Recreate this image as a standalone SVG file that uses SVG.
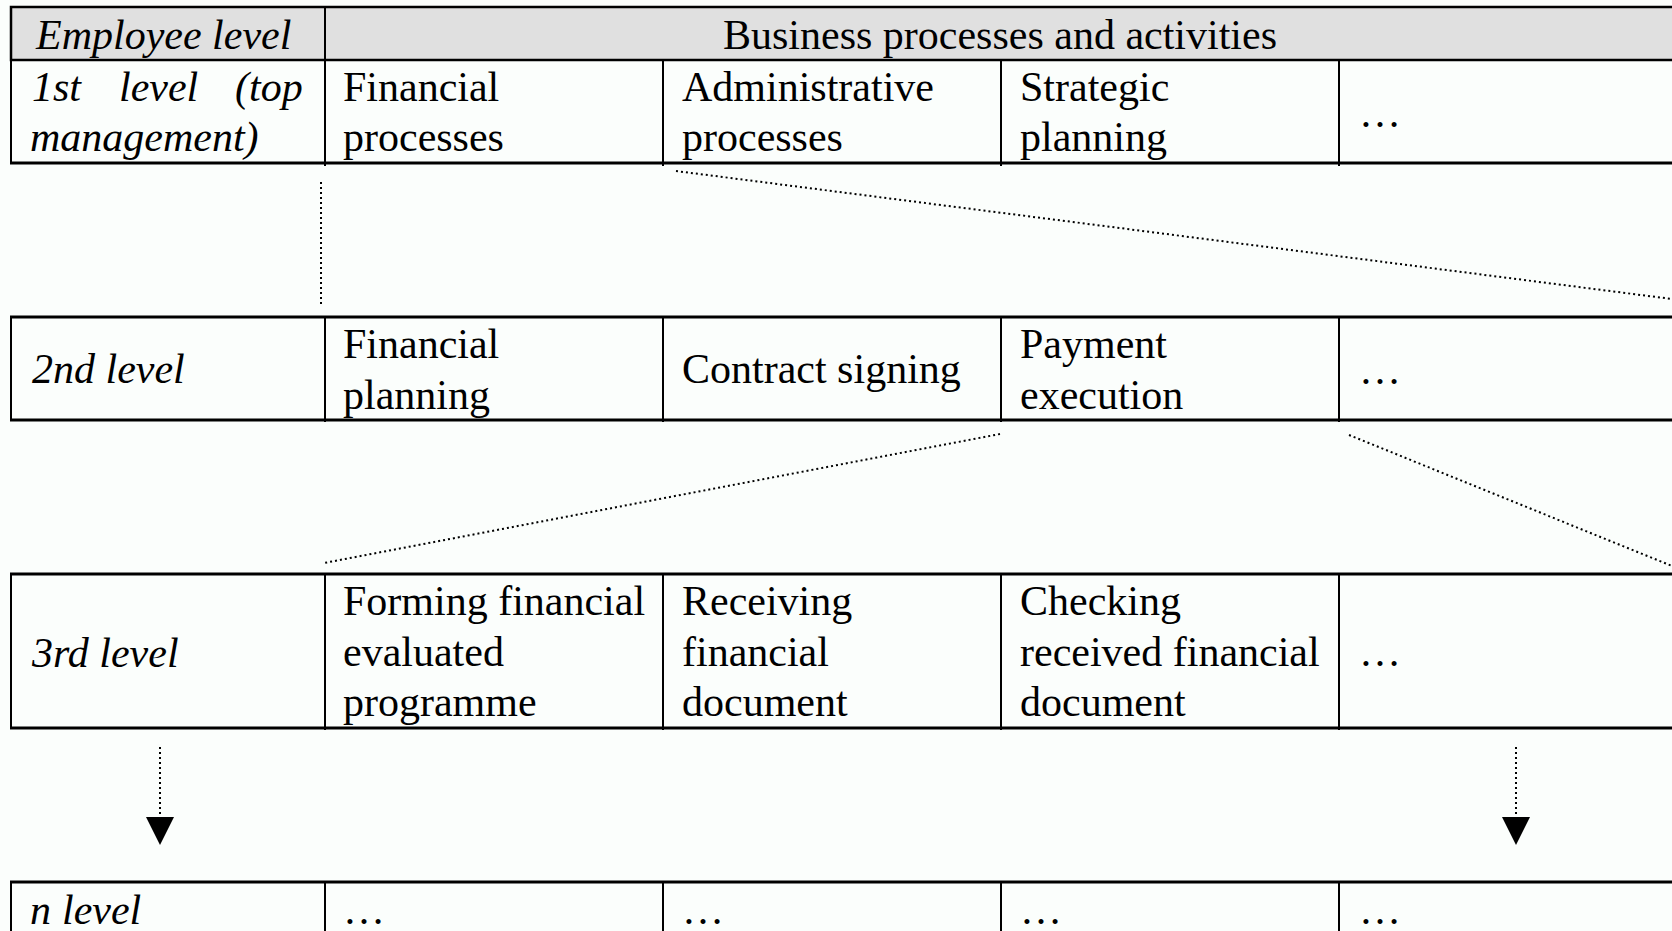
<svg xmlns="http://www.w3.org/2000/svg" width="1672" height="931" viewBox="0 0 1672 931">
<defs>
<style>
.t{font-family:"Liberation Serif","Times New Roman",serif;font-size:42px;fill:#000}
.i{font-style:italic}
.h{stroke:#000;stroke-width:3;fill:none}
.v{stroke:#000;stroke-width:2;fill:none}
.d{stroke:#000;stroke-width:2;stroke-dasharray:2 3;fill:none}
</style>
</defs>
<rect x="0" y="0" width="1672" height="931" fill="#fbfefc"/>

<g id="header">
<rect x="11" y="7" width="1680" height="53" fill="#e0e0e0" stroke="#000" stroke-width="2.5"/>
<line class="v" x1="325" y1="7" x2="325" y2="60"/>
<text class="t i" x="36" y="49">Employee level</text>
<text class="t" x="1000" y="49" text-anchor="middle">Business processes and activities</text>
</g>

<g id="row1">
<line class="v" x1="11" y1="60" x2="11" y2="164"/>
<line class="v" x1="325" y1="60" x2="325" y2="166"/>
<line class="v" x1="663" y1="60" x2="663" y2="166"/>
<line class="v" x1="1001" y1="60" x2="1001" y2="166"/>
<line class="v" x1="1339" y1="60" x2="1339" y2="166"/>
<line class="h" x1="10" y1="163" x2="1672" y2="163"/>
<text class="t i" y="101"><tspan x="32">1st</tspan><tspan x="119">level</tspan><tspan x="235">(top</tspan></text>
<text class="t i" x="30" y="151">management)</text>
<text class="t" x="343" y="101">Financial</text>
<text class="t" x="343" y="151">processes</text>
<text class="t" x="682" y="101">Administrative</text>
<text class="t" x="682" y="151">processes</text>
<text class="t" x="1020" y="101">Strategic</text>
<text class="t" x="1020" y="151">planning</text>
<text class="t" x="1359" y="127">…</text>
</g>

<g id="row2">
<line class="h" x1="10" y1="317" x2="1672" y2="317"/>
<line class="v" x1="11" y1="317" x2="11" y2="421"/>
<line class="v" x1="325" y1="317" x2="325" y2="422"/>
<line class="v" x1="663" y1="317" x2="663" y2="422"/>
<line class="v" x1="1001" y1="317" x2="1001" y2="422"/>
<line class="v" x1="1339" y1="317" x2="1339" y2="422"/>
<line class="h" x1="10" y1="420" x2="1672" y2="420"/>
<text class="t i" x="32" y="383">2nd level</text>
<text class="t" x="343" y="358">Financial</text>
<text class="t" x="343" y="409">planning</text>
<text class="t" x="682" y="383">Contract signing</text>
<text class="t" x="1020" y="358">Payment</text>
<text class="t" x="1020" y="409">execution</text>
<text class="t" x="1359" y="384">…</text>
</g>

<g id="row3">
<line class="h" x1="10" y1="574" x2="1672" y2="574"/>
<line class="v" x1="11" y1="574" x2="11" y2="729"/>
<line class="v" x1="325" y1="574" x2="325" y2="730"/>
<line class="v" x1="663" y1="574" x2="663" y2="730"/>
<line class="v" x1="1001" y1="574" x2="1001" y2="730"/>
<line class="v" x1="1339" y1="574" x2="1339" y2="730"/>
<line class="h" x1="10" y1="728" x2="1672" y2="728"/>
<text class="t i" x="32" y="667">3rd level</text>
<text class="t" x="343" y="615">Forming financial</text>
<text class="t" x="343" y="666">evaluated</text>
<text class="t" x="343" y="716">programme</text>
<text class="t" x="682" y="615">Receiving</text>
<text class="t" x="682" y="666">financial</text>
<text class="t" x="682" y="716">document</text>
<text class="t" x="1020" y="615">Checking</text>
<text class="t" x="1020" y="666">received financial</text>
<text class="t" x="1020" y="716">document</text>
<text class="t" x="1359" y="666">…</text>
</g>

<g id="rowN">
<line class="h" x1="10" y1="882" x2="1672" y2="882"/>
<line class="v" x1="11" y1="882" x2="11" y2="931"/>
<line class="v" x1="325" y1="882" x2="325" y2="931"/>
<line class="v" x1="663" y1="882" x2="663" y2="931"/>
<line class="v" x1="1001" y1="882" x2="1001" y2="931"/>
<line class="v" x1="1339" y1="882" x2="1339" y2="931"/>
<text class="t i" x="30" y="924">n</text>
<text class="t i" x="62" y="924">level</text>
<text class="t" x="343" y="924">…</text>
<text class="t" x="682" y="924">…</text>
<text class="t" x="1020" y="924">…</text>
<text class="t" x="1359" y="924">…</text>
</g>

<g id="connectors">
<line class="d" x1="321" y1="182" x2="321" y2="306"/>
<line class="d" x1="676" y1="171" x2="1672" y2="299"/>
<line class="d" x1="1000" y1="434" x2="324" y2="563"/>
<line class="d" x1="1349" y1="435" x2="1672" y2="566"/>
<line class="d" x1="160" y1="747" x2="160" y2="818"/>
<polygon points="146,817 174,817 160,845" fill="#000"/>
<line class="d" x1="1516" y1="747" x2="1516" y2="818"/>
<polygon points="1502,817 1530,817 1516,845" fill="#000"/>
</g>
</svg>
